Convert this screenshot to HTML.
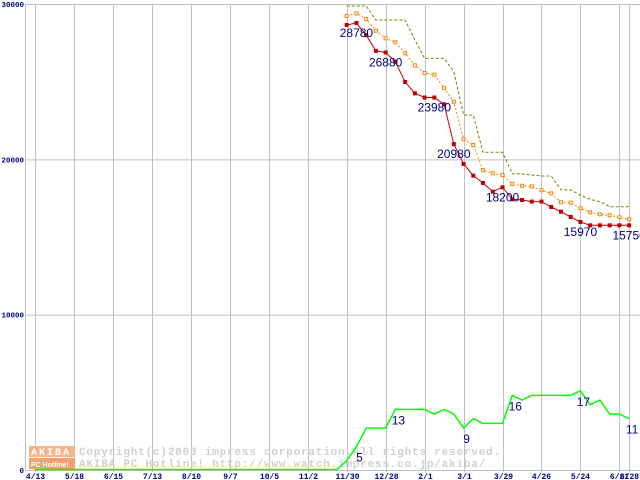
<!DOCTYPE html>
<html><head><meta charset="utf-8">
<style>
html,body{margin:0;padding:0;background:#fff;width:640px;height:480px;overflow:hidden}
svg{display:block}
</style></head>
<body>
<svg id="chart" width="640" height="480" viewBox="0 0 640 480" xmlns="http://www.w3.org/2000/svg">
  <g id="grid"></g>
  <g id="watermark">
    <rect x="29" y="446" width="46" height="11" fill="#f7b48a"/>
    <text x="31" y="455" font-family="Liberation Mono, monospace" font-size="10" font-weight="bold" fill="#fff" letter-spacing="2">AKIBA</text>
    <rect x="29" y="458" width="46" height="11" fill="#f4a070"/>
    <text x="31" y="467" font-family="Liberation Sans, sans-serif" font-size="7" font-weight="bold" fill="#fff">PC Hotline!</text>
    <text x="79" y="455" font-family="Liberation Mono, monospace" font-size="11" font-weight="bold" fill="#d0d0d0" letter-spacing="0.8">Copyright(c)2003 impress corporation.All rights reserved.</text>
    <text x="79" y="467" font-family="Liberation Mono, monospace" font-size="11" font-weight="bold" fill="#d0d0d0" letter-spacing="0.8">AKIBA PC Hotline!  http://www.watch.impress.co.jp/akiba/</text>
  </g>
  <g id="series"></g>
</svg>
<script>
const tickLabels = ["4/13","5/18","6/15","7/13","8/10","9/7","10/5","11/2","11/30","12/28","2/1","3/1","3/29","4/26","5/24","6/21","6/28"];
const tickIndex = [0,4,8,12,16,20,24,28,32,36,40,44,48,52,56,60,61];
const yTicks = [0,10000,20000,30000];
const startIndex = 32;
const minPrice = [28650,28780,28000,26980,26880,26280,24980,24250,23980,23980,23540,20980,19700,18950,18480,17920,18200,17430,17380,17280,17280,16930,16630,16290,15970,15750,15750,15750,15750,15750];
const avgPrice = [29230,29400,29030,28280,27790,27535,26830,26050,25560,25450,24580,23710,21290,20920,19300,19100,18990,18410,18300,18260,18010,17810,17235,17210,16850,16590,16460,16400,16270,16140];
const maxPrice = [29870,29870,29870,28970,28970,28970,28970,27680,26500,26500,26500,25640,22850,22850,20450,20450,20450,19060,19060,18990,18930,18930,18030,18030,17700,17430,17270,16950,16950,16950];
const shopCount = [2,5,9,9,9,13,13,13,13,12,13,12,9,11,10,10,10,16,15,16,16,16,16,16,17,14,15,12,12,11];
const priceLabelIdx = [1,4,9,11,16,24,29];
const countLabelIdx = [1,5,12,17,24,29];

const NS="http://www.w3.org/2000/svg";
const X0=35, DX=9.74, Y0=470, YH=466;
function xS(i){return X0+i*DX;}
function yS(v){return Y0-v/30000*YH;}
function yC(c){return Y0-c/100*YH;}
function mk(tag,attrs,parent){const e=document.createElementNS(NS,tag);for(const k in attrs)e.setAttribute(k,attrs[k]);parent.appendChild(e);return e;}
const grid=document.getElementById('grid'), ser=document.getElementById('series');

let fl=mk('line',{x1:25.5,y1:4,x2:25.5,y2:470,stroke:'#c0c0c0','stroke-width':1},grid);


yTicks.forEach(v=>{
  const l=mk('line',{x1:25,x2:640,y1:yS(v)+0.5,y2:yS(v)+0.5,stroke:'#c0c0c0','stroke-width':1},grid);
  
  
  const t=mk('text',{x:24,y:yS(v)+3,'text-anchor':'end','font-family':'Liberation Mono, monospace','font-size':7.5,'font-weight':'bold',fill:'#000080'},grid);
  t.textContent=String(v);
  
  
});
tickIndex.forEach((ti,k)=>{
  const x=Math.round(xS(ti))+0.5;
  const l=mk('line',{x1:x,x2:x,y1:4,y2:472,stroke:'#c0c0c0','stroke-width':1},grid);
  
  
  const t=mk('text',{x:x,y:479,'text-anchor':'middle','font-family':'Liberation Mono, monospace','font-size':8,'font-weight':'bold',fill:'#000080'},grid);
  t.textContent=tickLabels[k];
  
  
});

function pts(arr,ys){return arr.map((v,i)=>xS(startIndex+i).toFixed(1)+','+ys(v).toFixed(1)).join(' ');}

let gp='M'+xS(0)+','+(yC(0)-0.5)+' L'+xS(startIndex-1)+','+(yC(0)-0.5)+' L'+pts(shopCount,yC).replace(/ /g,' L');
let g=mk('path',{d:gp,fill:'none',stroke:'#00ff00','stroke-width':1.5},ser);



let mx=mk('polyline',{points:pts(maxPrice,yS),fill:'none',stroke:'#808000','stroke-width':1,'stroke-dasharray':'3,2'},ser);



let av=mk('polyline',{points:pts(avgPrice,yS),fill:'none',stroke:'#ff8000','stroke-width':1,'stroke-dasharray':'2,2'},ser);


avgPrice.forEach((v,i)=>{
  const r=mk('rect',{x:xS(startIndex+i)-1.5,y:yS(v)-1.5,width:3,height:3,fill:'#fff',stroke:'#ff8000','stroke-width':1},ser);
  
  
});

let mn=mk('polyline',{points:pts(minPrice,yS),fill:'none',stroke:'#c00000','stroke-width':1},ser);


minPrice.forEach((v,i)=>{
  const r=mk('rect',{x:xS(startIndex+i)-2,y:yS(v)-2,width:4,height:4,fill:'#c00000'},ser);
  
  
});

priceLabelIdx.forEach(i=>{
  const t=mk('text',{x:xS(startIndex+i),y:yS(minPrice[i])+14,'text-anchor':'middle','font-family':'Liberation Sans, sans-serif','font-size':12,fill:'#000080'},ser);
  t.textContent=String(minPrice[i]);
  
  
});
countLabelIdx.forEach(i=>{
  const t=mk('text',{x:xS(startIndex+i)+3,y:yC(shopCount[i])+15,'text-anchor':'middle','font-family':'Liberation Sans, sans-serif','font-size':12,fill:'#000080'},ser);
  t.textContent=String(shopCount[i]);
  
  
});
</script>
</body></html>
